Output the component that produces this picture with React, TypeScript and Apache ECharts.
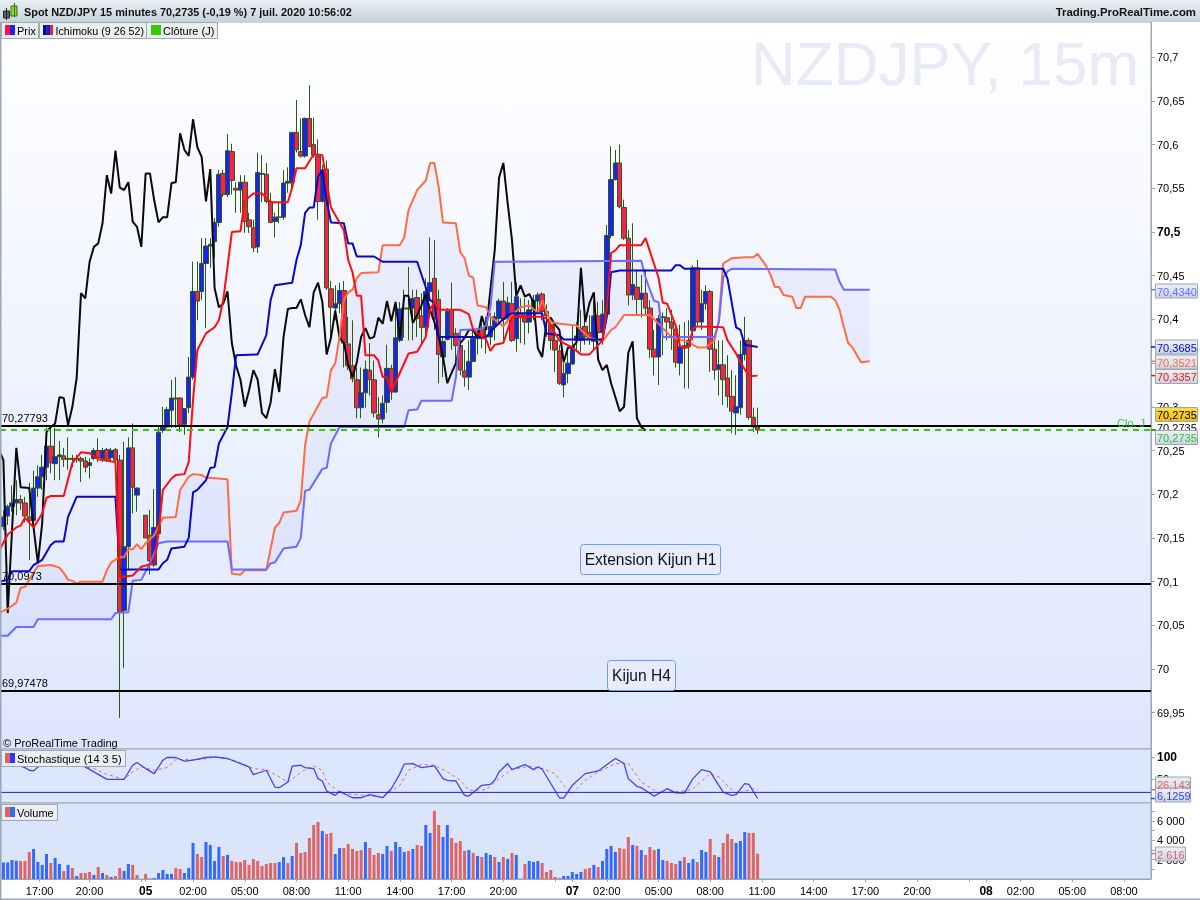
import React, { useEffect, useRef } from "react";
import * as echarts from "echarts";

const FONT = '"Liberation Sans", Arial, sans-serif';
const GRAY = "#9aa7b5";

// [open, close, low, high] for each 15-minute bar
const candles: (number[] | null)[] = [
  [70.163,70.174,70.159,70.182],[70.175,70.186,70.165,70.188],[70.186,70.190,70.180,70.210],[70.190,70.194,70.176,70.216],
  [70.194,70.190,70.182,70.199],[70.190,70.175,70.168,70.197],[70.174,70.170,70.125,70.213],[70.170,70.207,70.165,70.227],
  [70.207,70.220,70.197,70.233],[70.220,70.231,70.205,70.245],[70.231,70.255,70.216,70.276],[70.255,70.236,70.224,70.276],
  [70.235,70.243,70.216,70.276],[70.243,70.245,70.216,70.261],[70.244,70.240,70.231,70.253],[70.241,70.240,70.228,70.265],
  [70.241,70.240,70.231,70.245],[70.241,70.240,70.236,70.245],[70.241,70.238,70.214,70.243],[70.238,70.231,70.225,70.243],
  [70.233,70.236,70.218,70.241],[70.241,70.250,70.239,70.253],[70.250,70.242,70.237,70.264],[70.241,70.250,70.237,70.253],
  [70.251,70.240,70.237,70.253],[70.242,70.250,70.237,70.253],[70.251,70.239,70.239,70.253],[70.239,70.065,69.944,70.245],
  [70.067,70.140,70.001,70.260],[70.140,70.253,70.113,70.265],[70.253,70.208,70.178,70.281],[70.199,70.207,70.180,70.208],
  null,[70.176,70.150,70.150,70.176],[70.153,70.124,70.108,70.182],[70.119,70.162,70.117,70.206],
  [70.155,70.271,70.153,70.277],[70.273,70.277,70.270,70.300],[70.277,70.297,70.276,70.300],[70.296,70.310,70.276,70.331],
  [70.310,70.309,70.276,70.334],[70.310,70.280,70.271,70.311],[70.280,70.298,70.268,70.298],[70.299,70.334,70.293,70.357],
  [70.334,70.432,70.331,70.466],[70.432,70.421,70.399,70.466],[70.432,70.464,70.422,70.493],[70.464,70.484,70.390,70.493],
  [70.484,70.486,70.459,70.493],[70.489,70.511,70.470,70.516],[70.511,70.566,70.506,70.571],[70.567,70.543,70.540,70.571],
  [70.543,70.593,70.540,70.612],[70.592,70.559,70.543,70.601],[70.550,70.548,70.522,70.557],[70.548,70.557,70.522,70.565],
  [70.557,70.512,70.499,70.565],[70.514,70.506,70.499,70.522],[70.505,70.482,70.477,70.514],[70.483,70.568,70.476,70.591],
  [70.567,70.566,70.534,70.588],[70.566,70.535,70.533,70.579],[70.535,70.511,70.510,70.545],[70.512,70.517,70.494,70.522],
  [70.517,70.517,70.510,70.534],[70.517,70.556,70.514,70.571],[70.556,70.558,70.545,70.574],[70.557,70.614,70.550,70.614],
  [70.614,70.594,70.591,70.651],[70.592,70.587,70.585,70.630],[70.587,70.630,70.585,70.631],[70.630,70.598,70.597,70.668],
  [70.600,70.588,70.585,70.631],[70.587,70.535,70.514,70.606],[70.535,70.571,70.534,70.577],[70.572,70.436,70.434,70.582],
  [70.435,70.414,70.376,70.444],[70.413,70.418,70.399,70.439],[70.418,70.433,70.407,70.442],[70.433,70.373,70.345,70.444],
  [70.372,70.347,70.342,70.403],[70.347,70.332,70.328,70.399],[70.331,70.299,70.287,70.345],[70.299,70.316,70.287,70.345],
  [70.316,70.343,70.299,70.353],[70.342,70.331,70.313,70.373],[70.331,70.293,70.288,70.353],[70.291,70.286,70.265,70.311],
  [70.286,70.304,70.281,70.313],[70.305,70.344,70.293,70.371],[70.344,70.317,70.308,70.348],[70.317,70.379,70.316,70.420],
  [70.376,70.412,70.374,70.420],[70.412,70.413,70.379,70.434],[70.412,70.413,70.376,70.460],[70.413,70.424,70.376,70.434],
  [70.425,70.401,70.380,70.434],[70.404,70.391,70.373,70.430],[70.391,70.432,70.379,70.447],[70.432,70.442,70.422,70.494],
  [70.447,70.401,70.388,70.491],[70.423,70.360,70.327,70.434],[70.357,70.375,70.334,70.380],[70.377,70.409,70.376,70.413],
  [70.411,70.382,70.365,70.442],[70.384,70.370,70.351,70.390],[70.370,70.342,70.336,70.388],[70.341,70.334,70.323,70.365],
  [70.334,70.352,70.319,70.376],[70.352,70.378,70.351,70.390],[70.379,70.378,70.360,70.390],[70.389,70.378,70.367,70.399],
  [70.381,70.380,70.361,70.403],[70.380,70.392,70.371,70.407],[70.392,70.403,70.376,70.408],[70.401,70.421,70.396,70.424],
  [70.421,70.400,70.376,70.443],[70.401,70.419,70.396,70.426],[70.418,70.376,70.374,70.443],[70.378,70.426,70.363,70.442],
  [70.407,70.402,70.373,70.424],[70.405,70.397,70.371,70.424],[70.397,70.411,70.384,70.422],[70.411,70.422,70.399,70.428],
  [70.421,70.428,70.410,70.431],[70.429,70.409,70.399,70.431],[70.409,70.404,70.380,70.417],[70.394,70.376,70.365,70.403],
  [70.376,70.365,70.340,70.393],[70.364,70.327,70.325,70.371],[70.325,70.338,70.311,70.350],[70.338,70.350,70.327,70.367],
  [70.349,70.369,70.348,70.393],[70.376,70.381,70.363,70.397],[70.376,70.390,70.363,70.411],[70.392,70.380,70.371,70.411],
  [70.385,70.377,70.371,70.405],[70.375,70.404,70.365,70.422],[70.404,70.385,70.371,70.420],[70.385,70.406,70.371,70.422],
  [70.406,70.496,70.399,70.508],[70.496,70.560,70.493,70.598],[70.560,70.579,70.559,70.594],[70.579,70.529,70.527,70.600],
  [70.528,70.493,70.491,70.537],[70.493,70.428,70.416,70.502],[70.428,70.440,70.422,70.510],[70.437,70.423,70.404,70.457],
  [70.423,70.430,70.402,70.451],[70.430,70.413,70.404,70.457],[70.413,70.366,70.356,70.422],[70.366,70.357,70.336,70.388],
  [70.357,70.401,70.325,70.405],[70.402,70.403,70.359,70.408],[70.402,70.397,70.376,70.413],[70.397,70.390,70.365,70.411],
  [70.389,70.351,70.345,70.394],[70.350,70.369,70.336,70.394],[70.370,70.367,70.321,70.397],[70.369,70.376,70.321,70.399],
  [70.387,70.459,70.376,70.462],[70.459,70.397,70.393,70.468],[70.397,70.418,70.388,70.434],[70.418,70.432,70.411,70.439],
  [70.432,70.366,70.340,70.434],[70.366,70.342,70.331,70.376],[70.343,70.348,70.313,70.376],[70.348,70.331,70.302,70.376],
  [70.333,70.312,70.299,70.359],[70.312,70.295,70.270,70.342],[70.293,70.300,70.268,70.336],[70.299,70.360,70.291,70.376],
  [70.360,70.376,70.353,70.403],[70.376,70.288,70.285,70.379],[70.288,70.277,70.271,70.299],[70.277,70.2735,70.269,70.299],
];

// Ichimoku lines as [bar index, price], read where the line bends
const tenkan = [
  [-1,70.135],[1,70.154],[3,70.162],[4,70.164],[5,70.173],[7,70.162],[8,70.170],[9,70.178],[10,70.196],[11,70.198],[14,70.198],
  [16,70.236],[18,70.248],[20,70.247],[22,70.240],[26,70.237],[27,70.105],[30,70.107],[32,70.117],[35,70.121],[36,70.156],
  [37,70.205],[39,70.218],[40,70.222],[42,70.223],[43,70.237],[44,70.308],[45,70.365],[47,70.384],[49,70.391],[50,70.399],
  [51,70.422],[52,70.460],[53,70.500],[55,70.501],[56,70.536],[58,70.544],[60,70.544],[62,70.534],[66,70.534],[67,70.551],
  [68,70.573],[70,70.573],[72,70.589],[74,70.588],[76,70.528],[79,70.502],[80,70.468],[81,70.454],[82,70.427],[83,70.427],
  [84,70.359],[86,70.359],[87,70.353],[88,70.334],[89,70.334],[90,70.317],[92,70.339],[94,70.361],[96,70.363],[98,70.380],
  [99,70.411],[100,70.420],[101,70.411],[106,70.411],[108,70.406],[109,70.388],[112,70.377],[113,70.364],[114,70.371],
  [116,70.373],[117,70.388],[118,70.403],[125,70.403],[126,70.401],[129,70.376],[130,70.373],[132,70.368],[134,70.360],
  [136,70.360],[139,70.376],[140,70.411],[141,70.476],[142,70.479],[143,70.485],[148,70.485],[149,70.493],[152,70.448],
  [153,70.419],[154,70.418],[156,70.393],[157,70.369],[159,70.368],[160,70.390],[161,70.392],[167,70.391],[168,70.376],
  [170,70.361],[171,70.351],[173,70.335],[175,70.3357],
];
const kijun = [
  [-1,70.100],[1,70.102],[2,70.112],[6,70.112],[7,70.119],[9,70.125],[11,70.142],[12,70.146],[14,70.146],[15,70.174],[17,70.197],
  [26,70.197],[27,70.114],[36,70.114],[37,70.121],[38,70.125],[39,70.138],[42,70.140],[43,70.150],[44,70.202],[45,70.205],
  [47,70.216],[48,70.230],[49,70.231],[50,70.258],[52,70.277],[53,70.316],[54,70.359],[59,70.360],[61,70.382],[62,70.422],
  [63,70.439],[67,70.442],[68,70.468],[69,70.485],[70,70.522],[71,70.528],[72,70.528],[73,70.563],[74,70.571],[75,70.536],
  [76,70.511],[79,70.510],[80,70.487],[81,70.487],[82,70.472],[86,70.472],[88,70.466],[96,70.466],[99,70.422],[100,70.419],
  [101,70.380],[112,70.380],[114,70.391],[117,70.405],[118,70.407],[125,70.407],[126,70.384],[129,70.382],[130,70.377],
  [139,70.377],[140,70.403],[141,70.454],[143,70.456],[155,70.456],[156,70.462],[157,70.462],[158,70.458],[167,70.458],
  [168,70.447],[170,70.391],[171,70.388],[172,70.371],[175,70.3685],
];
const chikou = [
  [-1,70.250],[0,70.239],[1,70.064],[3,70.253],[4,70.208],[6,70.207],[7,70.162],[8,70.121],[9,70.167],[10,70.271],[11,70.277],
  [12,70.281],[13,70.311],[14,70.310],[15,70.279],[16,70.300],[17,70.333],[18,70.430],[19,70.424],[20,70.466],[21,70.483],
  [22,70.487],[23,70.510],[24,70.565],[25,70.544],[26,70.593],[27,70.551],[28,70.548],[29,70.557],[30,70.512],[31,70.506],
  [32,70.483],[33,70.567],[34,70.567],[35,70.536],[36,70.511],[37,70.517],[38,70.517],[39,70.556],[40,70.557],[41,70.613],
  [42,70.594],[43,70.587],[44,70.629],[45,70.597],[46,70.586],[47,70.535],[48,70.572],[49,70.436],[50,70.414],[51,70.418],
  [52,70.432],[53,70.373],[54,70.347],[55,70.331],[56,70.300],[57,70.319],[58,70.342],[59,70.331],[60,70.293],[61,70.287],
  [62,70.305],[63,70.343],[64,70.317],[65,70.380],[66,70.412],[67,70.413],[68,70.413],[69,70.423],[70,70.405],[71,70.391],
  [72,70.431],[73,70.442],[74,70.420],[75,70.360],[76,70.379],[77,70.410],[78,70.379],[79,70.373],[80,70.348],[81,70.334],
  [82,70.351],[83,70.380],[84,70.390],[85,70.378],[86,70.380],[87,70.402],[88,70.395],[89,70.421],[90,70.398],[91,70.420],
  [92,70.378],[93,70.427],[94,70.427],[95,70.396],[96,70.405],[97,70.416],[98,70.429],[99,70.411],[100,70.397],[101,70.380],
  [102,70.357],[103,70.327],[104,70.339],[105,70.350],[106,70.373],[107,70.379],[108,70.388],[109,70.388],[110,70.379],
  [111,70.404],[112,70.388],[113,70.434],[114,70.479],[115,70.562],[116,70.579],[117,70.533],[118,70.491],[119,70.427],
  [120,70.439],[121,70.426],[122,70.429],[123,70.420],[124,70.367],[125,70.357],[126,70.397],[127,70.402],[128,70.394],
  [129,70.388],[130,70.351],[131,70.368],[132,70.368],[133,70.374],[134,70.459],[135,70.397],[136,70.419],[137,70.431],
  [138,70.354],[139,70.342],[140,70.348],[141,70.327],[142,70.311],[143,70.295],[144,70.300],[145,70.362],[146,70.375],
  [147,70.287],[148,70.277],[149,70.273],
];
const senkouA = [
  [-1,70.064],[1,70.069],[3,70.076],[4,70.093],[5,70.094],[7,70.110],[8,70.118],[11,70.119],[13,70.116],[14,70.110],[15,70.102],
  [16,70.101],[17,70.098],[18,70.100],[23,70.100],[24,70.113],[25,70.122],[27,70.128],[28,70.128],[29,70.137],[30,70.137],
  [31,70.143],[32,70.137],[33,70.144],[35,70.153],[37,70.173],[40,70.174],[41,70.205],[43,70.220],[44,70.223],[46,70.222],
  [47,70.219],[52,70.217],[53,70.109],[55,70.108],[56,70.113],[61,70.113],[63,70.162],[64,70.167],[65,70.179],[68,70.181],
  [69,70.193],[70,70.256],[71,70.283],[74,70.310],[75,70.311],[76,70.342],[77,70.350],[78,70.380],[79,70.422],[80,70.431],
  [81,70.434],[82,70.447],[83,70.453],[87,70.454],[88,70.485],[92,70.485],[93,70.494],[94,70.525],[96,70.548],[98,70.559],
  [99,70.579],[100,70.579],[101,70.551],[102,70.511],[105,70.510],[106,70.477],[107,70.470],[108,70.450],[109,70.448],
  [110,70.416],[112,70.414],[113,70.403],[116,70.392],[118,70.405],[120,70.414],[122,70.416],[124,70.408],[125,70.422],
  [127,70.397],[129,70.395],[133,70.393],[134,70.388],[136,70.379],[139,70.375],[141,70.388],[142,70.391],[144,70.405],
  [150,70.405],[153,70.390],[155,70.380],[159,70.374],[161,70.368],[163,70.368],[165,70.376],[166,70.399],[167,70.464],
  [168,70.467],[169,70.470],[172,70.471],[174,70.471],[175,70.475],[177,70.461],[178,70.451],[179,70.437],[180,70.437],
  [181,70.428],[183,70.426],[184,70.413],[185,70.413],[186,70.426],[192,70.426],[193,70.422],[194,70.411],[195,70.391],
  [196,70.373],[197,70.368],[199,70.351],[201,70.3521],
];
const senkouB = [
  [-1,70.038],[1,70.038],[3,70.048],[7,70.048],[8,70.057],[25,70.057],[26,70.064],[29,70.065],[30,70.101],[32,70.102],
  [34,70.121],[36,70.144],[38,70.146],[52,70.146],[53,70.114],[61,70.114],[62,70.121],[63,70.122],[65,70.138],[68,70.140],
  [69,70.150],[70,70.204],[71,70.205],[74,70.229],[75,70.230],[76,70.258],[78,70.277],[93,70.277],[94,70.296],[96,70.297],
  [97,70.307],[104,70.307],[105,70.334],[106,70.388],[111,70.389],[112,70.393],[113,70.414],[114,70.466],[148,70.467],
  [149,70.448],[150,70.434],[151,70.421],[152,70.420],[153,70.380],[165,70.380],[166,70.397],[167,70.448],[168,70.455],
  [169,70.458],[193,70.457],[194,70.443],[195,70.434],[201,70.434],
];

// Horizontal levels and last values
const levels = [70.27793, 70.0973, 69.97478];
const levelLabels = ["70,27793", "70,0973", "69,97478"];
const closeDaily = 70.2735;
const priceTicks = [69.95,70,70.05,70.1,70.15,70.2,70.25,70.3,70.35,70.4,70.45,70.5,70.55,70.6,70.65,70.7];
const priceTickLabels = [69.95,70,70.05,70.1,70.15,70.2,70.25,70.3,70.4,70.45,70.5,70.55,70.6,70.65,70.7];

// Stochastic (14 3 5)
const stochK = [
  [-1,92.7],[2,85.1],[5,76],[6,70],[7,68.5],[8,77.6],[12,88.9],[15,92.7],[19,77.6],[21,66.2],[24,49.5],[28,49.5],[30,81.3],
  [31,87.4],[33,73.8],[35,62.4],[37,92.7],[38,98.8],[40,98.8],[42,90.4],[44,92.7],[47,98.8],[49,100],[52,96.5],[54,88.9],
  [57,77.6],[58,60.1],[61,70],[63,32.1],[64,30.6],[66,43.5],[67,79.1],[69,81.3],[70,76],[72,73.8],[73,51],[74,45.7],[75,23],
  [77,13.2],[78,22.2],[81,7.9],[83,7.9],[85,14.7],[88,7.9],[90,28.3],[92,62.4],[93,83.6],[95,85.1],[97,76],[100,79.8],[102,51],
  [103,47.3],[105,45.7],[107,13.2],[108,11.6],[111,35.9],[113,38.2],[114,47.3],[115,66.2],[117,85.1],[118,71.5],[121,82.9],
  [123,71.5],[124,77.6],[125,72.3],[129,7.9],[130,7.1],[132,35.9],[135,62.4],[137,66.2],[138,68.5],[142,96.5],[144,85.1],
  [145,51],[147,33.6],[148,30.6],[151,11.6],[154,28.3],[156,19.2],[158,18.5],[160,51],[162,71.5],[164,66.2],[167,20.7],
  [169,13.2],[170,14.7],[172,39.7],[173,38.2],[175,6.1259],
];
const stochD = [
  [-1,96.5],[7,81.3],[15,88.9],[19,77.6],[21,73.8],[24,60.9],[28,49.5],[30,66.2],[32,77.6],[35,70],[38,76],[40,94.2],[43,94.2],
  [46,94.2],[49,100],[53,94.2],[58,73.8],[61,71.5],[66,43.5],[70,71.5],[72,79.1],[74,70],[75,43.5],[78,20.7],[81,15.4],[84,13.2],
  [88,9.4],[92,35.9],[94,70],[97,82.9],[100,81.3],[103,66.2],[106,47.3],[108,24.5],[112,26],[115,51],[118,71.5],[122,79.1],
  [125,73.8],[128,62.4],[130,35.9],[132,17],[135,47.3],[138,66.2],[142,85.1],[145,85.1],[148,43.5],[152,19.2],[154,20.7],
  [158,23],[160,28.3],[164,62.4],[166,54.8],[169,26],[170,17],[174,28.3],[175,26.143],
];
const stochLevel = 20;

// Volume and the direction of each bar (B = blue, R = red)
const volumes = [
  1690,1690,1960,1890,1860,1860,2790,3100,1750,1450,
  2580,1650,2170,1550,830,1450,1140,310,620,620,
  720,410,1240,620,410,210,310,1140,830,1550,
  1450,410,0,520,30,100,620,930,520,520,
  1140,1030,620,1140,3720,2580,2270,3820,3510,1860,
  3300,2370,2480,1860,1750,1750,1960,1450,2060,1860,
  1340,1550,1650,1650,1750,2270,1650,2370,3720,2680,
  2790,4230,5570,5880,4950,4640,4750,2580,3200,3200,
  3610,3100,2890,2990,3820,3200,2480,2680,2580,3410,
  2890,3820,3300,2790,2890,3100,3510,3410,5570,4750,
  7020,5570,4330,5570,4230,3720,3920,2890,2990,2680,
  2370,2270,2680,2480,2270,1750,2270,2060,2680,2480,
  0,1550,1860,1750,1860,1650,720,930,210,100,
  310,310,720,520,720,1030,1140,1450,1240,1860,
  3100,3410,2790,3200,3100,4330,3510,3410,2990,2480,
  3300,2990,3100,1960,1860,1650,1550,1860,2270,1650,
  2060,1750,2990,2790,4130,2480,2270,3720,4640,4130,
  3720,3920,4850,4750,4750,2616,
];
const volumeDirections =
  "BBBBRRRBBB" + "BRBBRBRBRR" + "RBRBRBRRBB" + "RR-RBBBBBB" + "RRBBBRRBBB" + "BRBRRRRRRR" + "RRRRBBRBRR" + "RRRRBRRBBR" +
  "RRRRBRRRBB" + "RBBBRBRRBB" + "RRBBRRRRBR" + "BRBBRBRBRB" + "-RBBBRRRRR" + "BBBBBRRBRB" + "BBBRRRBRBR" + "RRBBRRRBRB" +
  "BRBBRRBRRR" + "BBBRRR";

// Time axis: bar index of each labelled tick
const timeTicks = [8.4,20,33,44,56,68,80,92,104,116,132,140,152,164,176,188,200,212,228,236,248,260];
const timeLabels = ["17:00","20:00","05","02:00","05:00","08:00","11:00","14:00","17:00","20:00","07","02:00","05:00","08:00","11:00","14:00","17:00","20:00","08","02:00","05:00","08:00"];
const dayLabels = ["05", "07", "08"];
const extraTimeTicks = [32, 128, 224];

const X_MIN = -0.789;
const X_MAX = 266.27;

const App = () => {
  const ref = useRef<HTMLDivElement>(null);

  useEffect(() => {
    const chart = echarts.init(ref.current!, undefined, { renderer: "svg" });

    const candleData = candles
      .map((row, i) => (row ? [i, ...row] : null))
      .filter(Boolean);

    const line = (name: string, data: number[][], color: string, extra: object = {}, width = 2) => ({
      name,
      type: "line",
      xAxisIndex: 0,
      yAxisIndex: 0,
      data,
      showSymbol: false,
      silent: true,
      z: 3,
      lineStyle: { color, width },
      ...extra,
    });

    const hiddenX = (gridIndex: number) => ({
      type: "value",
      gridIndex,
      min: X_MIN,
      max: X_MAX,
      show: false,
      splitLine: { show: false },
    });

    const axisTextStyle = { color: "#000", fontFamily: FONT, fontSize: 11 };
    const rightAxisLine = { show: true, onZero: false, lineStyle: { color: GRAY } };

    chart.setOption({
      animation: false,
      textStyle: { fontFamily: FONT },
      grid: [
        {
          left: 0, top: 22, width: 1151, height: 727, show: true, borderColor: GRAY, borderWidth: 1,
          backgroundColor: new echarts.graphic.LinearGradient(0, 0, 0, 1, [
            { offset: 0, color: "#ffffff" },
            { offset: 1, color: "#dde6fd" },
          ]),
        },
        { left: 0, top: 749, width: 1151, height: 54, show: true, borderColor: GRAY, borderWidth: 1, backgroundColor: "#dce6fc" },
        { left: 0, top: 803, width: 1151, height: 76, show: true, borderColor: GRAY, borderWidth: 1, backgroundColor: "#dae5fc" },
      ],
      xAxis: [
        hiddenX(0),
        hiddenX(1),
        {
          type: "value",
          gridIndex: 2,
          min: X_MIN,
          max: X_MAX,
          splitLine: { show: false },
          axisLine: { onZero: false, lineStyle: { color: GRAY } },
          axisTick: { customValues: [...timeTicks, ...extraTimeTicks], length: 3, lineStyle: { color: GRAY } },
          axisLabel: {
            customValues: timeTicks,
            margin: 6,
            ...axisTextStyle,
            showMinLabel: true,
            showMaxLabel: true,
            formatter: (v: number) => {
              const text = timeLabels[timeTicks.indexOf(v)] ?? "";
              return dayLabels.includes(text) ? `{d|${text}}` : text;
            },
            rich: { d: { fontFamily: FONT, fontSize: 12, fontWeight: "bold", color: "#000" } },
          },
        },
      ],
      yAxis: [
        {
          type: "value", gridIndex: 0, position: "right", min: 69.9085, max: 70.7403,
          splitLine: { show: false },
          axisLine: rightAxisLine,
          axisTick: { show: true, customValues: priceTicks, length: 4, lineStyle: { color: GRAY } },
          axisLabel: {
            customValues: priceTickLabels, margin: 6, ...axisTextStyle,
            formatter: (v: number) => {
              const text = String(Number(v.toFixed(2))).replace(".", ",");
              return text === "70,5" ? `{b|${text}}` : text;
            },
            rich: { b: { fontFamily: FONT, fontSize: 12, fontWeight: "bold", color: "#000" } },
          },
        },
        {
          type: "value", gridIndex: 1, position: "right", min: -4, max: 118,
          splitLine: { show: false },
          axisLine: rightAxisLine,
          axisTick: { show: true, customValues: [50, 100], length: 4, lineStyle: { color: GRAY } },
          axisLabel: {
            customValues: [50, 100], margin: 6, ...axisTextStyle,
            formatter: (v: number) => (v === 100 ? "{b|100}" : String(v)),
            rich: { b: { fontFamily: FONT, fontSize: 12, fontWeight: "bold", color: "#000" } },
          },
        },
        {
          type: "value", gridIndex: 2, position: "right", min: 0, max: 7835,
          splitLine: { show: false },
          axisLine: rightAxisLine,
          axisTick: { show: true, customValues: [1000, 2000, 3000, 4000, 5000, 6000, 7000], length: 4, lineStyle: { color: GRAY } },
          axisLabel: {
            customValues: [2000, 4000, 6000], margin: 6, ...axisTextStyle,
            formatter: (v: number) => String(v).replace(/(\d)(\d{3})$/, "$1 $2"),
          },
        },
      ],
      series: [
        {
          name: "Nuage",
          type: "custom",
          xAxisIndex: 0,
          yAxisIndex: 0,
          clip: true,
          silent: true,
          z: 1,
          data: [[0, 70.3]],
          renderItem: (_p: unknown, api: any) => ({
            type: "polygon",
            shape: { points: [...senkouA, ...[...senkouB].reverse()].map((d) => api.coord(d)) },
            style: { fill: "rgba(110,110,240,0.07)" },
          }),
        },
        {
          name: "Prix",
          type: "candlestick",
          xAxisIndex: 0,
          yAxisIndex: 0,
          data: candleData,
          encode: { x: 0, y: [1, 2, 3, 4] },
          barWidth: 5,
          silent: true,
          z: 2,
          itemStyle: {
            color: "#1a22f0",
            color0: "#f8204e",
            borderColor: "#2c5a12",
            borderColor0: "#2c5a12",
            borderWidth: 1,
          },
        },
        line("Chikou", chikou, "#0a0a0a"),
        line("Senkou A", senkouA, "#ff6c42"),
        line("Senkou B", senkouB, "#6c6cff"),
        line("Kijun", kijun, "#0808c8"),
        line("Tenkan", tenkan, "#ff0d0d"),
        ...levels.map((v, i) => ({
          name: `Niveau ${i + 1}`,
          type: "line", xAxisIndex: 0, yAxisIndex: 0, showSymbol: false, silent: true, z: 6,
          data: [[X_MIN, v], [X_MAX, v]],
          lineStyle: { color: "#000", width: 2 },
        })),
        {
          name: "Clôture (J)",
          type: "line", xAxisIndex: 0, yAxisIndex: 0, showSymbol: false, silent: true, z: 6,
          data: [[X_MIN, closeDaily], [X_MAX, closeDaily]],
          lineStyle: { color: "#33cc00", width: 2, type: [6, 5] },
        },
        {
          name: "Stoch D",
          type: "line", xAxisIndex: 1, yAxisIndex: 1, data: stochD, showSymbol: false, silent: true,
          lineStyle: { color: "#e06a6a", width: 1, type: [3, 3] },
        },
        {
          name: "Stoch K",
          type: "line", xAxisIndex: 1, yAxisIndex: 1, data: stochK, showSymbol: false, silent: true,
          lineStyle: { color: "#4444f0", width: 1.3 },
        },
        {
          name: "Niveau 20",
          type: "line", xAxisIndex: 1, yAxisIndex: 1, showSymbol: false, silent: true,
          data: [[X_MIN, stochLevel], [X_MAX, stochLevel]],
          lineStyle: { color: "#2222c8", width: 1 },
        },
        {
          name: "Volume",
          type: "bar", xAxisIndex: 2, yAxisIndex: 2, barWidth: 3, silent: true,
          data: volumes.map((v, i) => ({
            value: [i, v],
            itemStyle: { color: volumeDirections[i] === "R" ? "#df6464" : "#3469ff" },
          })),
        },
      ],
    });

    const py = (v: number) => chart.convertToPixel({ yAxisIndex: 0 }, v) as number;
    const sy = (v: number) => chart.convertToPixel({ yAxisIndex: 1 }, v) as number;
    const vy = (v: number) => chart.convertToPixel({ yAxisIndex: 2 }, v) as number;

    const Z = 50;
    const txt = (text: string, x: number, y: number, fill = "#000", font = `11px ${FONT}`, align = "left", z = Z) => ({
      type: "text", x, y, z, silent: true,
      style: { text, fill, font, align, verticalAlign: "middle" },
    });
    const rect = (x: number, y: number, w: number, h: number, fill: any, stroke?: string, r = 0, z = Z) => ({
      type: "rect", z, silent: true,
      shape: { x, y, width: w, height: h, r },
      style: { fill, stroke, lineWidth: stroke ? 1 : 0 },
    });
    const boxFill = () =>
      new echarts.graphic.LinearGradient(0, 0, 0, 1, [
        { offset: 0, color: "#edf1f7" },
        { offset: 1, color: "#c9d4e3" },
      ]);

    const chip = (x: number, y: number, w: number, h: number) => rect(x + 0.5, y + 0.5, w, h, "#ebeff1", GRAY);

    const valueBox = (
      text: string, value: number, boxY: number, color: string, toY: (v: number) => number,
      width = 42, fill?: any, textColor?: string, z = Z + 2,
    ) => [
      rect(1151, toY(value) - 0.75, 5, 1.5, color, undefined, 0, Z),
      rect(1155.5, boxY, width, 14, fill ?? boxFill(), GRAY, 0, z),
      txt(text, 1157, boxY + 7.5, textColor ?? color, `11px ${FONT}`, "left", z + 1),
    ];

    const noteBox = (text: string, x: number, y: number, w: number, h: number) => [
      rect(x + 0.5, y + 0.5, w, h, "#e6ecfd", "#6f9bf8", 3),
      txt(text, x + w / 2 + 0.5, y + h / 2 + 0.5, "#111", `15.6px ${FONT}`, "center", Z + 1),
    ];

    const elements: any[] = [
      // Watermark
      txt("NZDJPY, 15m", 751, 63, "#e8ebf5", `62px ${FONT}`, "left", 0),
      // Header bar
      rect(0, 0, 1200, 22, new echarts.graphic.LinearGradient(0, 0, 0, 1, [
        { offset: 0, color: "#eaf0f3" },
        { offset: 1, color: "#c5d2da" },
      ])),
      rect(3.5, 11, 6, 7, "#59636b", "#222"),
      rect(11, 6, 6, 10, "#8fdc2a", "#3b6a10"),
      rect(14, 3, 1, 14, "#3b6a10"),
      rect(6, 8, 1, 12, "#222"),
      txt("Spot NZD/JPY 15 minutes 70,2735 (-0,19 %) 7 juil. 2020 10:56:02", 24, 12, "#111", `bold 10.9px ${FONT}`),
      txt("Trading.ProRealTime.com", 1196, 12, "#111", `bold 11.4px ${FONT}`, "right"),
      // Legend chips
      chip(1, 22, 37, 16),
      rect(5, 25, 5, 10, "#ff1040"),
      rect(10, 25, 5, 10, "#1a22f0"),
      txt("Prix", 17, 31),
      chip(39, 22, 107, 16),
      rect(43, 25, 3, 10, "#101060"),
      rect(46, 25, 3, 10, "#1a22f0"),
      rect(49, 25, 1.5, 10, "#101060"),
      rect(50.5, 25, 2.5, 10, "#ff1040"),
      txt("Ichimoku (9 26 52)", 55.5, 31, "#000", `10.7px ${FONT}`),
      chip(146, 22, 71, 16),
      rect(151, 25, 10, 10, "#33cc00"),
      txt("Clôture (J)", 163, 31),
      // Indicator chips
      chip(1, 750, 124, 16),
      rect(5, 753, 5, 10, "#e06464"),
      rect(10, 753, 5, 10, "#3333ff"),
      txt("Stochastique (14 3 5)", 17, 759),
      chip(1, 804, 56, 16),
      rect(5, 807, 5, 10, "#e06464"),
      rect(10, 807, 5, 10, "#3469ff"),
      txt("Volume", 17, 813),
      // Copyright
      txt("© ProRealTime Trading", 3, 743),
      // Level labels
      ...levels.map((v, i) => txt(levelLabels[i], 2, py(v) - 8)),
      // Text notes
      ...noteBox("Extension Kijun H1", 580, 544, 140, 30),
      ...noteBox("Kijun H4", 607, 660, 68, 30),
      // Daily close tag
      txt("Clo. J", 1117, 423, "#33cc33"),
      // Value boxes on the price axis
      txt("70,2735", 1157, 428),
      ...valueBox("70,4340", 70.434, 284, "#6c6cff", py),
      ...valueBox("70,3685", 70.3685, 340, "#0808c8", py),
      ...valueBox("70,3521", 70.3521, 355, "#ff6c42", py),
      ...valueBox("70,3357", 70.3357, 369.5, "#ff0d0d", py),
      ...valueBox("70,2735", 70.2735, 407.5, "#000", py, 42, new echarts.graphic.LinearGradient(0, 0, 0, 1, [
        { offset: 0, color: "#ffdf3a" },
        { offset: 1, color: "#f2bd10" },
      ]), "#000"),
      ...valueBox("70,2735", 70.2735, 430.5, "#33cc00", py, 42, undefined, "#33bb33"),
      // Value boxes on the lower panes
      ...valueBox("26,143", 26.143, 777, "#e06464", sy, 35),
      ...valueBox("6,1259", 6.1259, 788, "#3c3cf0", sy, 35),
      ...valueBox("2 616", 2616, 847, "#e06464", vy, 30),
      // Frame
      rect(0, 22, 1.5, 877, GRAY),
      rect(0, 898.5, 1200, 1.5, GRAY),
    ];

    chart.setOption({ graphic: { elements } });

    return () => chart.dispose();
  }, []);

  return <div ref={ref} style={{ position: "fixed", left: 0, top: 0, width: 1200, height: 900 }} />;
};

export default App;
